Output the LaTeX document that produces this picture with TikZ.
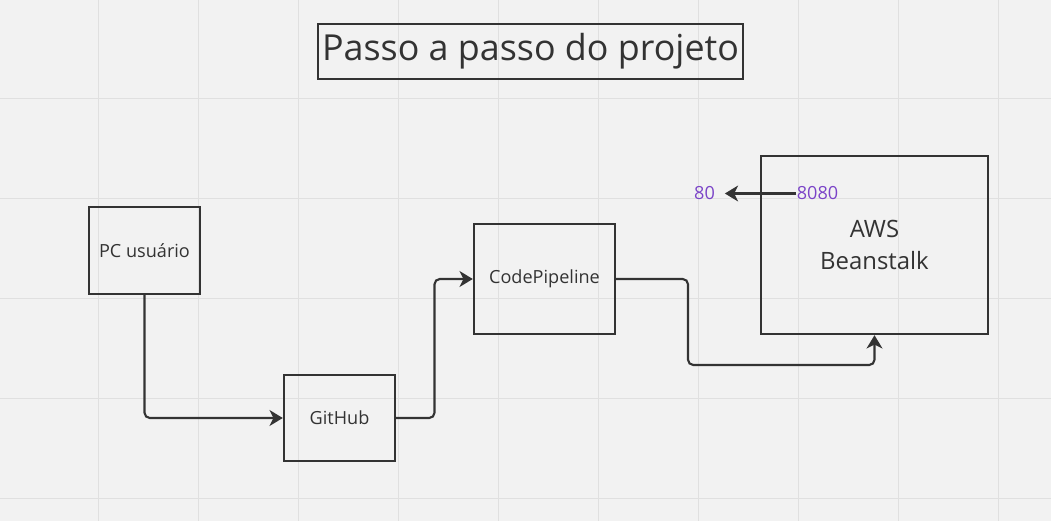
\documentclass[tikz,border=0pt]{standalone}
\usepackage{fontspec}
\setmainfont{Open Sans}
\usetikzlibrary{arrows.meta}

\definecolor{ink}{HTML}{333333}
\definecolor{portclr}{HTML}{7B44C8}
\definecolor{paper}{HTML}{F2F2F2}
\definecolor{gridln}{HTML}{E0E0E0}

\begin{document}
\begin{tikzpicture}[x=0.02cm,y=-0.02cm,
    box/.style={draw=ink,line width=1.4pt,text=ink,inner sep=0pt,align=center},
    link/.style={draw=ink,line width=1.2pt,rounded corners=3pt,
      -{Stealth[length=7.5pt,width=9pt,inset=2.2pt]}},
    portlbl/.style={text=portclr,inner sep=0pt,font=\fontsize{10.3}{12}\selectfont}]
    % background and grid
    \fill[paper] (0,0) rectangle (1051,521);
    \useasboundingbox (0,0) rectangle (1051,521);
    \foreach \x in {98.5,198.5,...,998.5}
        \draw[gridln,line width=0.6pt] (\x,0) -- (\x,521);
    \foreach \y in {98.5,198.5,...,498.5}
        \draw[gridln,line width=0.6pt] (0,\y) -- (1051,\y);
    % title
    \node[box,minimum width=8.5cm,minimum height=1.1cm,font=\fontsize{20.4}{24}\selectfont] (title) at (530.5,51.5) {Passo a passo do projeto};
    % steps
    \node[box,minimum width=2.22cm,minimum height=1.74cm,font=\fontsize{10.3}{13}\selectfont] (pc) at (144.5,250.5) {PC usuário};
    \node[box,minimum width=2.22cm,minimum height=1.72cm,font=\fontsize{10.3}{13}\selectfont] (git) at (339.5,418) {GitHub};
    \node[box,minimum width=2.82cm,minimum height=2.2cm,font=\fontsize{10.3}{13}\selectfont] (cp) at (544.5,279) {CodePipeline};
    \node[box,minimum width=4.54cm,minimum height=3.56cm,font=\fontsize{13.6}{18.7}\selectfont] (aws) at (874.5,245) {AWS\\Beanstalk};
    % ports
    \node[portlbl] (p80) at (704.5,193.5) {80};
    \node[portlbl] (p8080) at (817.5,193.5) {8080};
    \coordinate (hop) at (434.5,349);
    \coordinate (drop) at (688,365);
    % connectors
    \draw[link] (pc.south) |- (git.west);
    \draw[link] (git.east) -| (hop) |- (cp.west);
    \draw[link] (cp.east) -| (drop) -| (aws.south);
    \draw[link,shorten >=5.5pt] (p8080) -- (p80);
\end{tikzpicture}
\end{document}
